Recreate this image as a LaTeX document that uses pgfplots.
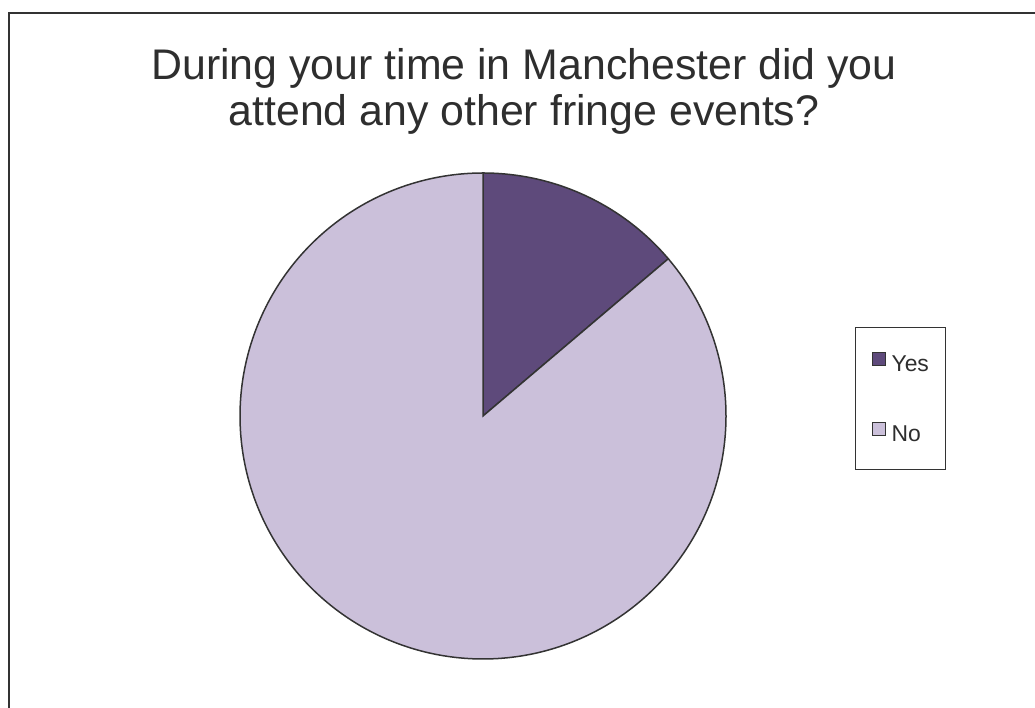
\documentclass[border=0pt]{standalone}
\usepackage{pgfplots}
\usepackage{pgfplotstable}
\pgfplotsset{compat=1.18}
\usepackage{fontspec}
\setmainfont{Liberation Sans}
\definecolor{yescol}{HTML}{5E4A7B}
\definecolor{nocol}{HTML}{CBC0DA}
\definecolor{edge}{HTML}{333333}
\definecolor{txt}{HTML}{2E2E2E}

\pgfplotstableread{
label value
Yes 13.8
No 86.2
}\piedata

\begin{document}
\begin{tikzpicture}[x=1bp,y=1bp]
\path[use as bounding box] (0,0) rectangle (1035,708);
\draw[edge, line width=2bp] (8.5,0) -- (8.5,695) -- (1035,695);
\node[anchor=base, text=txt, font=\fontsize{43}{46}\selectfont] at (524,628) {During your time in Manchester did you};
\node[anchor=base, text=txt, font=\fontsize{43}{46}\selectfont] at (524,582) {attend any other fringe events?};

\pgfplotstablegetelem{0}{value}\of\piedata
\pgfmathsetmacro{\aYes}{90-3.6*\pgfplotsretval}
\pgfplotstablegetelem{1}{value}\of\piedata
\pgfmathsetmacro{\aNo}{\aYes-3.6*\pgfplotsretval}

\begin{axis}[
  at={(483bp,292bp)}, anchor=center,
  scale only axis, width=486bp, height=486bp,
  xmin=-1, xmax=1, ymin=-1, ymax=1,
  hide axis, clip=false,
  legend image code/.code={%
    \draw[#1, line width=1bp] (0bp,0bp) rectangle (13bp,13bp);},
  legend style={
    at={(1.2655,0.6831)}, anchor=north west,
    draw=edge, line width=1bp,
    inner xsep=16bp, inner ysep=24bp,
    row sep=47bp, column sep=5bp,
    text=txt,
    nodes={inner sep=1bp, text height=15bp, text depth=3bp,
           font=\fontsize{23}{23}\selectfont},
  },
  legend cell align=left,
]
\addplot[fill=yescol, draw=edge, line width=1.5bp, domain=90:\aYes, samples=80]
  ({cos(x)},{sin(x)}) -- (axis cs:0,0) -- cycle;
\addlegendentry{Yes}
\addplot[fill=nocol, draw=edge, line width=1.5bp, domain=\aYes:\aNo, samples=300]
  ({cos(x)},{sin(x)}) -- (axis cs:0,0) -- cycle;
\addlegendentry{No}
\end{axis}
\end{tikzpicture}
\end{document}
